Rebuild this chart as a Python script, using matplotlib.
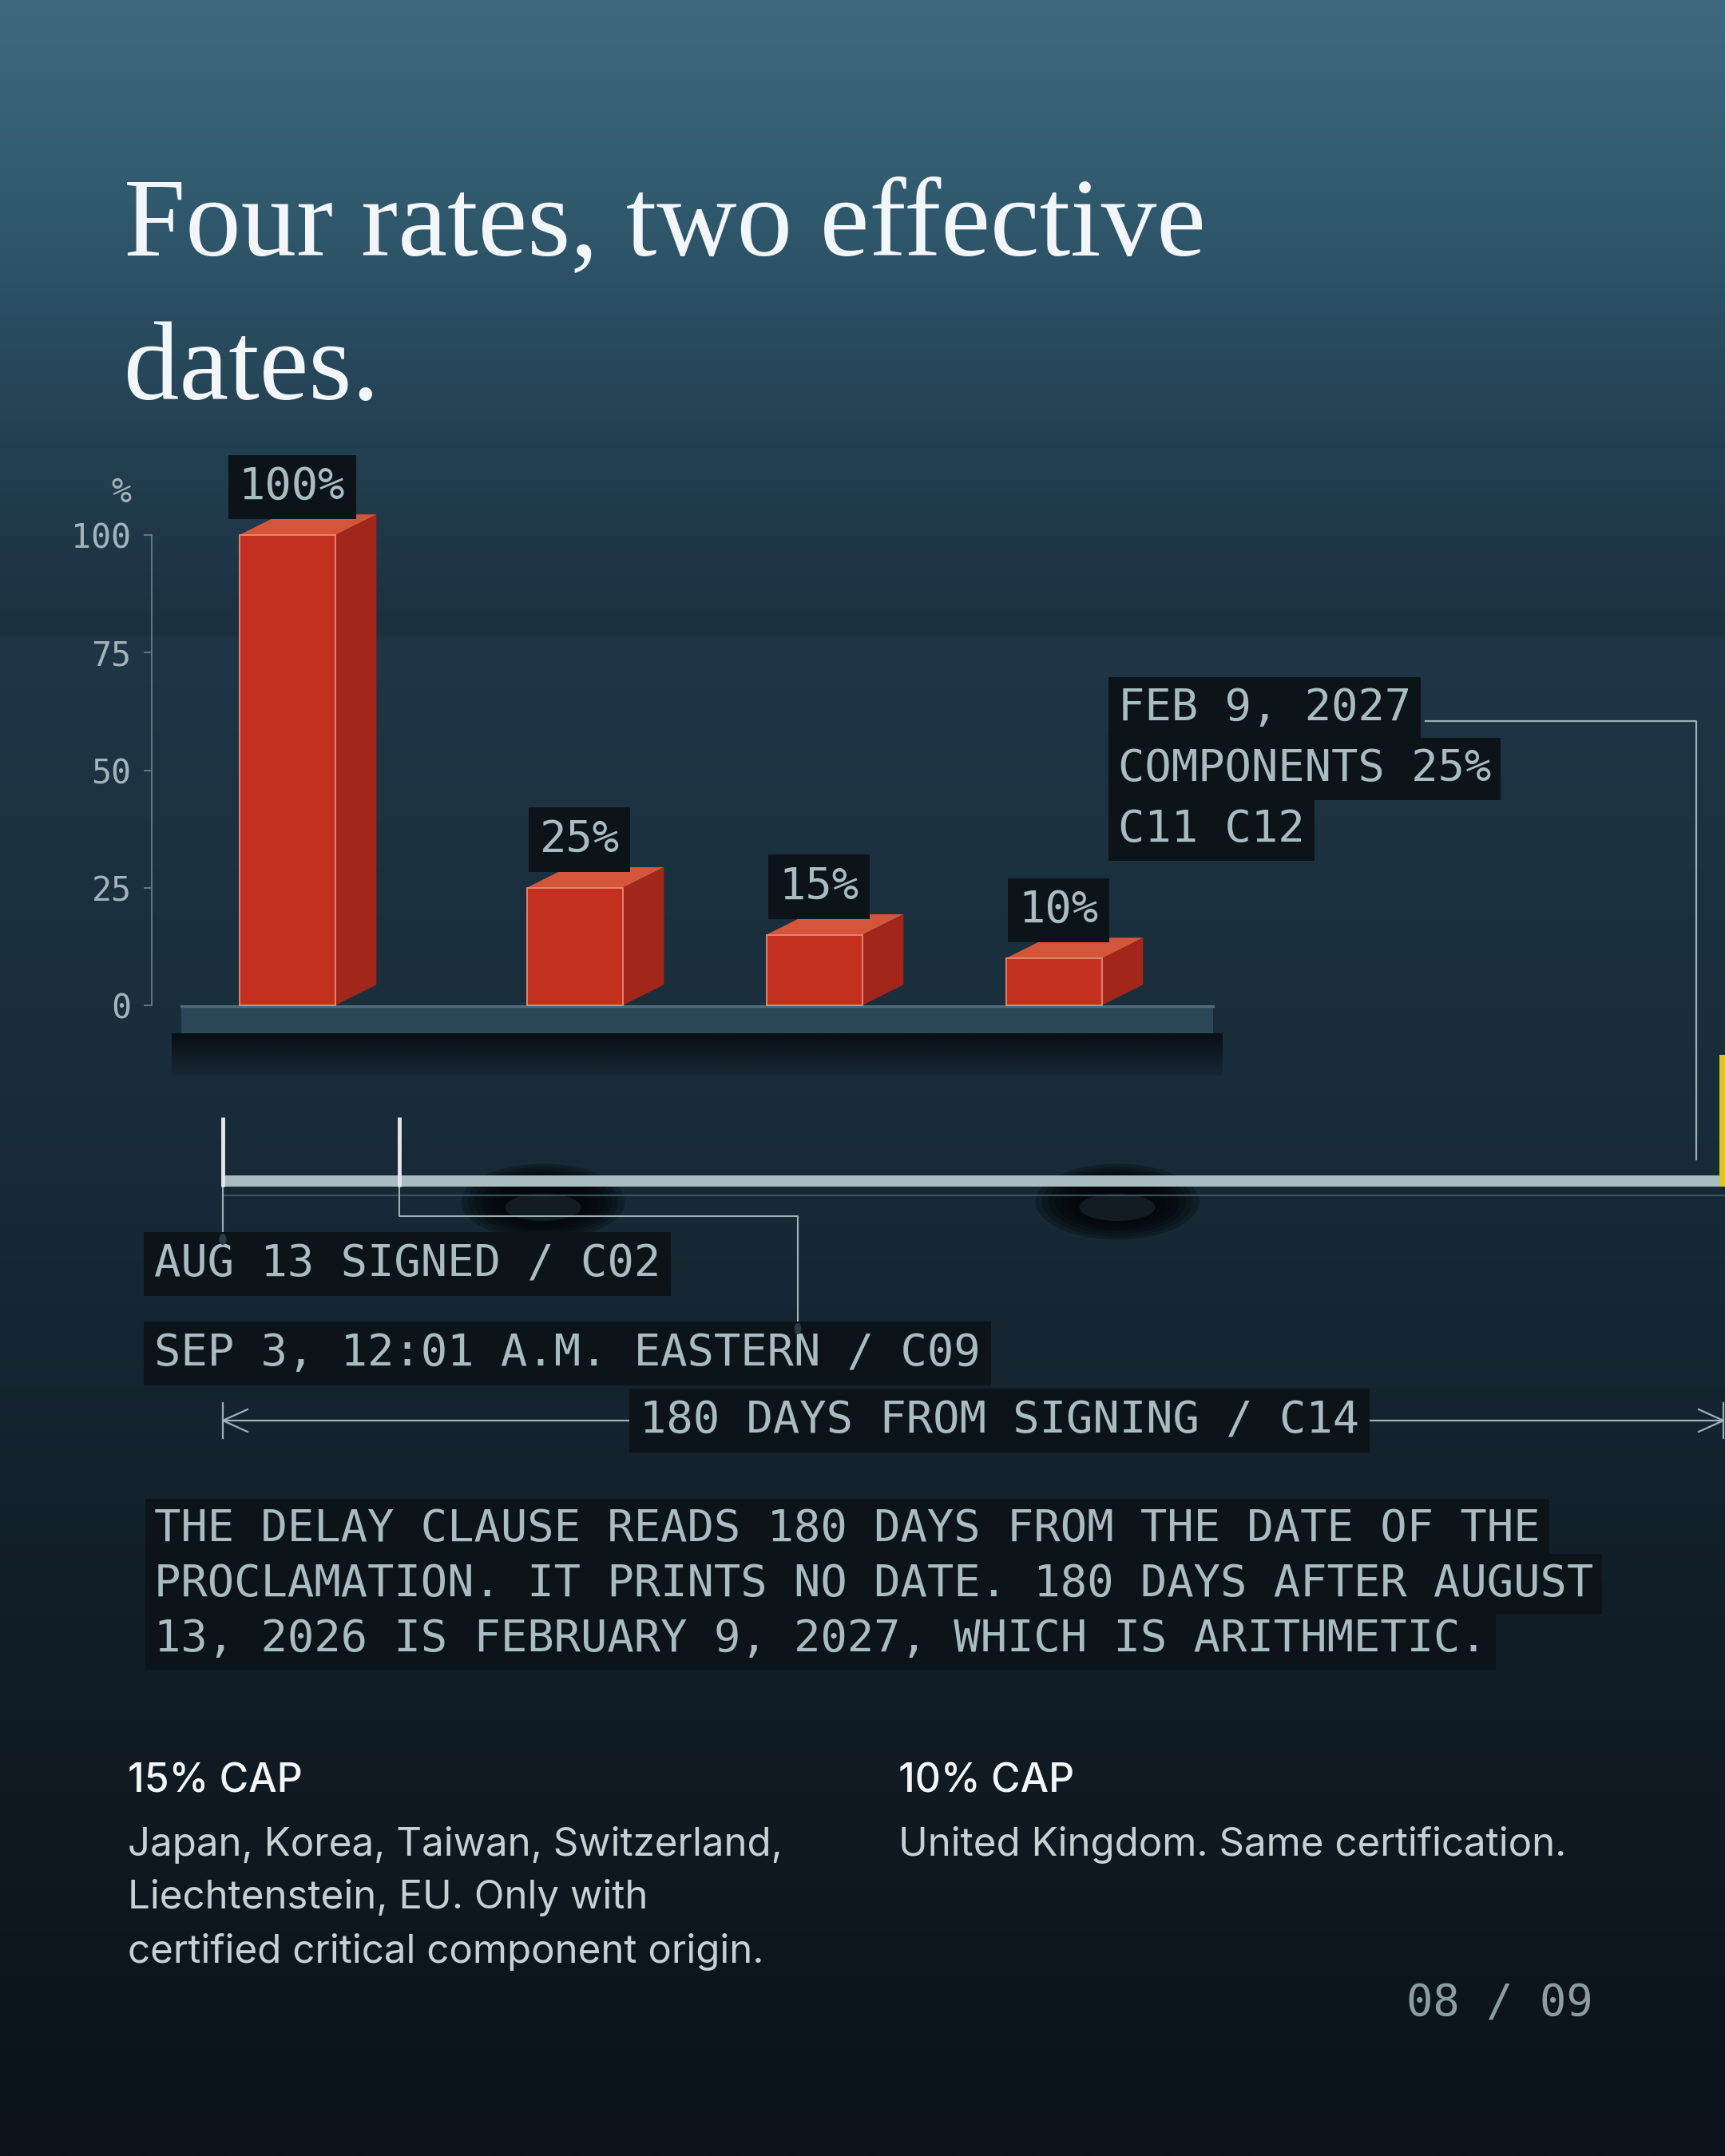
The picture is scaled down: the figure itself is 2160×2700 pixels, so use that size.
import numpy as np
import matplotlib
matplotlib.use("Agg")
import matplotlib.pyplot as plt
from matplotlib.patches import Polygon, Rectangle, Ellipse

# ---- data ----
rate_labels = ["100%", "25%", "15%", "10%"]
rate_values = [100, 25, 15, 10]
y_ticks = [0, 25, 50, 75, 100]

title_lines = ["Four rates, two effective", "dates."]
feb_lines = ["FEB 9, 2027", "COMPONENTS 25%", "C11 C12"]
signed_label = "AUG 13 SIGNED / C02"
start_label = "SEP 3, 12:01 A.M. EASTERN / C09"
span_label = "180 DAYS FROM SIGNING / C14"
note_lines = [
    "THE DELAY CLAUSE READS 180 DAYS FROM THE DATE OF THE",
    "PROCLAMATION. IT PRINTS NO DATE. 180 DAYS AFTER AUGUST",
    "13, 2026 IS FEBRUARY 9, 2027, WHICH IS ARITHMETIC.",
]
cap_titles = ["15% CAP", "10% CAP"]
cap_bodies = [
    ["Japan, Korea, Taiwan, Switzerland,", "Liechtenstein, EU. Only with",
     "certified critical component origin."],
    ["United Kingdom. Same certification."],
]
page_label = "08 / 09"

# ---- layout / style ----
W, H = 2160, 2700
MONO = "DejaVu Sans Mono"
SANS = "Inter"
SERIF = "Liberation Serif"
TAG_BG = "#0c141a"
TAG_TXT = "#a9bcc1"
LINE = "#9db1b7"
RED_FRONT = "#c3301f"
RED_SIDE = "#a2271a"
RED_TOP = "#d5553b"
RED_EDGE = "#e98a74"

bar_pos = [0, 1.2, 2.2, 3.2]
bar_w = 0.4
px_per_unit = 300.0
x_lo, x_hi = -0.567, 4.0
ax_left_px, ax_zero_px, ax_top_px = 189.5, 1259, 670

fig = plt.figure(figsize=(W / 100, H / 100), dpi=100)

# background / overlay axes in pixel coordinates
bg = fig.add_axes([0, 0, 1, 1])
bg.set_xlim(0, W)
bg.set_ylim(H, 0)
bg.axis("off")

stops = [0.0, 0.1, 0.2, 0.294, 0.297, 0.55, 0.75, 1.0]
cols = np.array([[62, 106, 128], [48, 88, 108], [35, 65, 83], [27, 48, 63],
                 [30, 54, 70], [24, 42, 55], [17, 30, 40], [11, 18, 25]]) / 255.0
yy = np.linspace(0, 1, H)
grad = np.stack([np.interp(yy, stops, cols[:, i]) for i in range(3)], axis=-1)[:, None, :]
bg.imshow(grad, extent=(0, W, H, 0), aspect="auto", zorder=0, interpolation="bilinear")

# title
bg.text(155, 319, title_lines[0], family=SERIF, size=100, color="#f3f6f9", va="baseline", zorder=5)
bg.text(155, 500, title_lines[1], family=SERIF, size=100, color="#f3f6f9", va="baseline", zorder=5)

# platform under the bars
bg.add_patch(Rectangle((227, 1259), 1292, 35, fc="#2b4657", ec="none", zorder=2))
bg.plot([227, 1519], [1260, 1260], color="#506c7c", lw=2.5, zorder=2)
shadow = np.zeros((40, 1, 4))
shadow[:, 0, :3] = np.array([8, 14, 19]) / 255.0
shadow[:, 0, 3] = np.linspace(0.95, 0.15, 40)
bg.imshow(shadow, extent=(215, 1531, 1347, 1294), aspect="auto", zorder=2)

# FEB 9 callout
feb_y = [887, 963, 1039]
for s, y in zip(feb_lines, feb_y):
    bg.text(1400, y, s, family=MONO, size=40, color=TAG_TXT, ha="left", va="center",
            bbox=dict(boxstyle="square,pad=0.22", fc=TAG_BG, ec="none"), zorder=6)
bg.plot([1785, 2124, 2124], [903, 903, 1452], color=LINE, lw=1.6, zorder=4)

# timeline
for cx in [680, 1399]:
    for k in range(7):
        bg.add_patch(Ellipse((cx, 1505), 205 * (1 - 0.08 * k), 95 * (1 - 0.08 * k),
                             fc="#03070a", ec="none", alpha=0.3, zorder=2))
    bg.add_patch(Ellipse((cx, 1512), 95, 34, fc="#1d2b33", ec="none", alpha=0.6, zorder=2))
bg.add_patch(Rectangle((279, 1472), W - 279, 14, fc="#a9bcc0", ec="none", zorder=3))
bg.plot([279, W], [1497, 1497], color="#3a5361", lw=1.5, zorder=3)
bg.add_patch(Rectangle((2153, 1321), 7, 165, fc="#dcc61f", ec="none", zorder=4))
for tx in [279, 500]:
    bg.plot([tx, tx], [1399, 1486], color="#e1e9ec", lw=3.5, zorder=4, solid_capstyle="butt")

# connectors
bg.plot([279, 279], [1486, 1550], color=LINE, lw=1.5, zorder=3)
bg.plot([500, 500, 999, 999], [1486, 1523, 1523, 1662], color=LINE, lw=1.5, zorder=3)
bg.add_patch(Ellipse((279, 1552), 9, 14, fc="#2c3b45", ec="none", zorder=7))
bg.add_patch(Ellipse((999, 1664), 9, 14, fc="#2c3b45", ec="none", zorder=7))

# 180-day span arrow
ay = 1779
bg.plot([279, 2158], [ay, ay], color=LINE, lw=1.6, zorder=3)
bg.plot([310, 279, 310], [ay - 14, ay, ay + 14], color=LINE, lw=1.6, zorder=3)
bg.plot([279, 279], [ay - 22, ay + 22], color=LINE, lw=1.6, zorder=3)
bg.plot([2127, 2158, 2127], [ay - 14, ay, ay + 14], color=LINE, lw=1.6, zorder=3)
bg.plot([2158, 2158], [ay - 22, ay + 22], color=LINE, lw=1.6, zorder=3)

tag_style = dict(family=MONO, size=40, color=TAG_TXT, ha="left", va="center",
                 bbox=dict(boxstyle="square,pad=0.24", fc=TAG_BG, ec="none"), zorder=6)
bg.text(193, 1583, signed_label, **tag_style)
bg.text(193, 1695, start_label, **tag_style)
bg.text(801, ay, span_label, **tag_style)

note_style = dict(tag_style, bbox=dict(boxstyle="square,pad=0.2", fc=TAG_BG, ec="none"))
note_y = [1915, 1984, 2053]
for s, y in zip(note_lines, note_y):
    bg.text(193, y, s, **note_style)

# cap notes
cap_x = [160, 1125]
for x, t, body in zip(cap_x, cap_titles, cap_bodies):
    bg.text(x, 2231, t, family=SANS, size=36, weight="medium", color="#f3f6f8",
            ha="left", va="center", zorder=5)
    for i, line in enumerate(body):
        bg.text(x, 2310 + i * 67, line, family=SANS, size=35.5, color="#c6d1d5",
                ha="left", va="center", zorder=5)

bg.text(1995, 2510, page_label, family=MONO, size=40, color="#8c9ca3",
        ha="right", va="center", zorder=5)

# ---- bar chart axes ----
ax_w_px = (x_hi - x_lo) * px_per_unit
ax_h_px = ax_zero_px - ax_top_px
ax = fig.add_axes([ax_left_px / W, (H - ax_zero_px) / H, ax_w_px / W, ax_h_px / H])
ax.set_facecolor("none")
ax.set_xlim(x_lo, x_hi)
ax.set_ylim(0, 100)

dx = 51.7 / px_per_unit
dy = 25.8 * 100.0 / ax_h_px

ax.bar(bar_pos, rate_values, width=bar_w, color=RED_FRONT, edgecolor=RED_EDGE,
       linewidth=1.3, zorder=4, clip_on=False)
for p, v, lbl in zip(bar_pos, rate_values, rate_labels):
    x0, x1 = p - bar_w / 2, p + bar_w / 2
    ax.add_patch(Polygon([(x1, 0), (x1 + dx, dy), (x1 + dx, v + dy), (x1, v)],
                         closed=True, fc=RED_SIDE, ec="none", zorder=3, clip_on=False))
    ax.add_patch(Polygon([(x0, v), (x1, v), (x1 + dx, v + dy), (x0 + dx, v + dy)],
                         closed=True, fc=RED_TOP, ec="none", zorder=3, clip_on=False))
    ax.annotate(lbl, (p, v), xytext=(6, 60), textcoords="offset pixels",
                ha="center", va="center", family=MONO, size=40, color=TAG_TXT,
                bbox=dict(boxstyle="square,pad=0.24", fc=TAG_BG, ec="none"),
                zorder=6, annotation_clip=False)

for side in ["top", "right", "bottom"]:
    ax.spines[side].set_visible(False)
ax.spines["left"].set_bounds(0, 100)
ax.spines["left"].set_color("#6f858d")
ax.spines["left"].set_linewidth(1.2)
ax.set_xticks([])
ax.set_yticks(y_ticks)
ax.set_yticklabels([str(t) for t in y_ticks])
ax.tick_params(axis="y", length=7, width=1.2, color="#6f858d", pad=11,
               labelsize=30, labelcolor="#a3b3b9")
for t in ax.get_yticklabels():
    t.set_family(MONO)

bg.text(152, 617, "%", family=MONO, size=30, color="#a3b3b9", ha="center", va="center", zorder=5)

fig.savefig("out.png", dpi=100)
